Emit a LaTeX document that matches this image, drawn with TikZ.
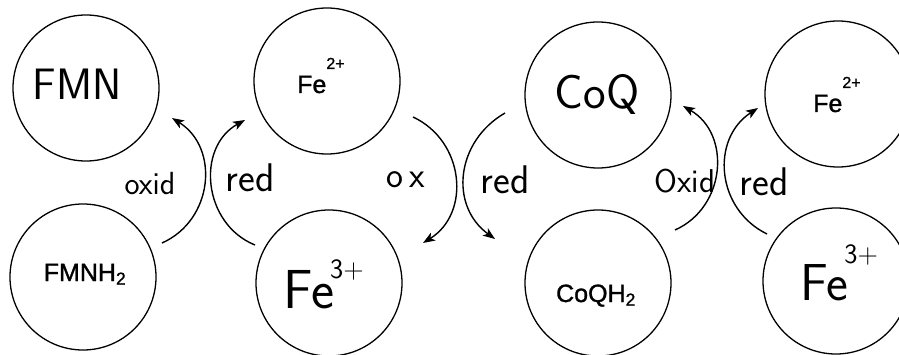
\documentclass[tikz,border=0pt]{standalone}
\usepackage{fontspec}
\setmainfont{Liberation Sans}
\usetikzlibrary{arrows.meta}
\begin{document}
\begin{tikzpicture}[x=1pt,y=1pt,
  ball/.style={circle,draw,line width=1.3pt,minimum size=146pt,inner sep=0pt},
  printed/.style={font=\fontsize{25}{25}\selectfont\addfontfeature{FakeBold=1.2},inner sep=0pt},
  hand/.style={font=\sffamily\fontsize{40}{40}\selectfont,inner sep=0pt},
  arr/.style={line width=1.4pt,looseness=1.15,-{Stealth[length=12pt,width=9pt,inset=3pt]}}]
\useasboundingbox (0,0) rectangle (899,354);
% circles
\node[ball] (FMN)   at (86,266) {};
\node[ball] (Fe2a)  at (327,273) {};
\node[ball] (CoQ)   at (598,259) {};
\node[ball] (Fe2b)  at (838,260) {};
\node[ball] (FMNH2) at (83,77) {};
\node[ball] (Fe3a)  at (329,71) {};
\node[ball] (CoQH2) at (598,71) {};
\node[ball] (Fe3b)  at (836,73) {};
% printed texts
\node[printed,anchor=base] (tFMNH2) at (85,73) {FMNH\textsubscript{2}};
\node[printed,anchor=base] (tCoQH2) at (596,52) {CoQH\textsubscript{2}};
\node[printed,anchor=base west] (tFe2a) at (297,261) {Fe\raisebox{24pt}{\fontsize{16}{16}\selectfont 2+}};
\node[printed,anchor=base west] (tFe2b) at (813,242) {Fe\raisebox{24pt}{\fontsize{16}{16}\selectfont 2+}};
% handwritten texts
\node[hand,anchor=base,font=\sffamily\fontsize{44}{44}\selectfont] (tFMN) at (77,254) {FMN};
\node[hand,anchor=base,font=\sffamily\fontsize{48}{48}\selectfont] (tCoQ) at (597,245) {CoQ};
\node[hand,anchor=base west,font=\sffamily\fontsize{55}{55}\selectfont] (tFe3a) at (283,46) {Fe\kern-4pt\raisebox{30pt}{\fontsize{28}{28}\selectfont 3+}};
\node[hand,anchor=base west,font=\sffamily\fontsize{52}{52}\selectfont] (tFe3b) at (800,54) {Fe\kern-4pt\raisebox{37pt}{\fontsize{28}{28}\selectfont 3+}};
% reaction labels
\node[hand,font=\sffamily\fontsize{32}{32}\selectfont] (l1) at (150,170) {oxid};
\node[hand] (l2) at (250,176) {red};
\node[hand,font=\sffamily\fontsize{36}{36}\selectfont] (l3) at (406,174) {o\,x};
\node[hand] (l4) at (505,174) {red};
\node[hand,font=\sffamily\fontsize{33}{33}\selectfont] (l5) at (685,173) {Oxid};
\node[hand] (l6) at (764,172) {red};
% connector end points
\coordinate (as) at (162,111); \coordinate (ae) at (172,236);
\coordinate (bs) at (255,109); \coordinate (be) at (245,234);
\coordinate (cs) at (413,237); \coordinate (ce) at (423,111);
\coordinate (ds) at (505,241); \coordinate (de) at (495,115);
\coordinate (es) at (675,124); \coordinate (ee) at (683,248);
\coordinate (fs) at (767,120); \coordinate (fe) at (758,246);
% arrows
\draw[arr] (as) to[out=24,in=-32] (ae);
\draw[arr] (bs) to[out=158,in=-151] (be);
\draw[arr] (cs) to[out=-25,in=32] (ce);
\draw[arr] (ds) to[out=210,in=144] (de);
\draw[arr] (es) to[out=24,in=-30] (ee);
\draw[arr] (fs) to[out=154,in=-147] (fe);
\end{tikzpicture}
\end{document}
